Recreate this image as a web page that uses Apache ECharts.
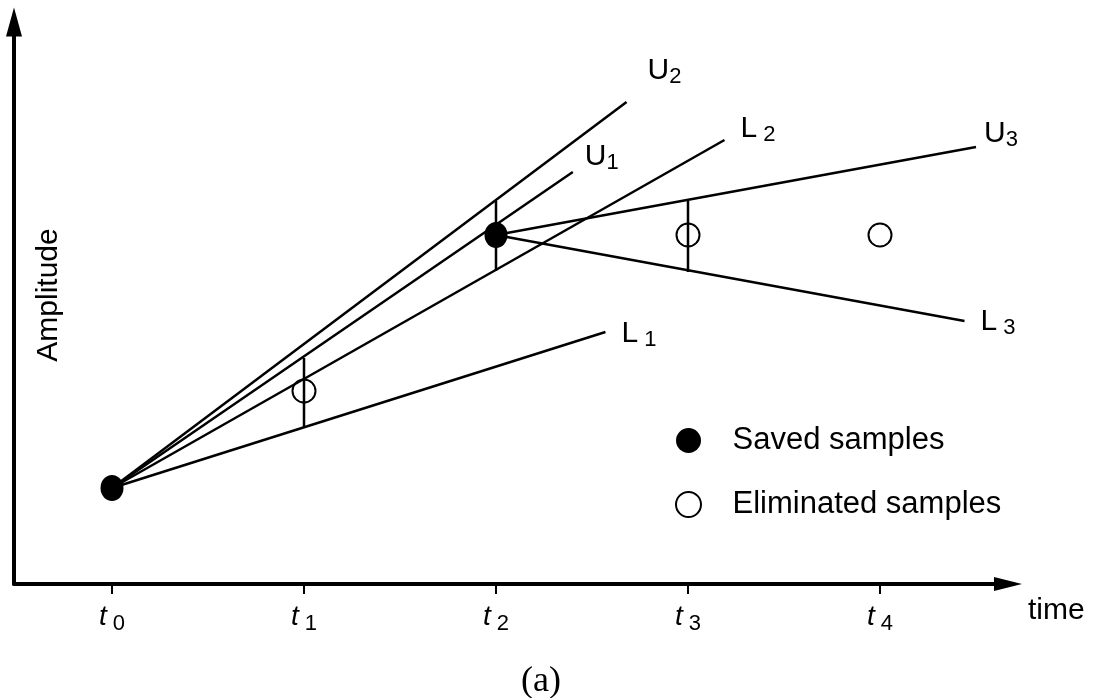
<!DOCTYPE html>
<html><head><meta charset="utf-8">
<script src="https://cdn.jsdelivr.net/npm/echarts@6/dist/echarts.min.js"></script>
<style>html,body{margin:0;padding:0;background:#fff}#c{width:1095px;height:698px}</style>
</head><body><div id="c"></div>
<script>
// ---- data (x in sample-time units t_k, y in amplitude units) ----
const tickValues = [0, 1, 2, 3, 4];
const tickSubs = ['0', '1', '2', '3', '4'];

const savedT = [0, 2];
const savedA = [0.96, 3.49];

const elimT = [1, 3, 4];
const elimA = [1.93, 3.49, 3.49];

const boundT = [1, 2, 3];
const boundUpper = [2.26, 3.83, 3.83];
const boundLower = [1.57, 3.13, 3.12];

const lineLetters = ['U', 'L', 'U', 'L', 'U', 'L'];
const lineSubs = ['1', '1', '2', '2', '3', '3'];
const lineStartT = [0, 0, 0, 0, 2, 2];
const lineStartA = [0.96, 0.96, 0.96, 0.96, 3.49, 3.49];
const lineEndT = [2.40, 2.57, 2.68, 3.19, 4.50, 4.44];
const lineEndA = [4.12, 2.52, 4.82, 4.44, 4.37, 2.63];

// ---- layout / style (not data) ----
const FONT = "'Liberation Sans', Arial, Helvetica, sans-serif";
const labelOffsets = [[12, -13], [16, 4], [21, -29], [16, -9], [8, -11], [16, 3]];
const X_MIN = -98 / 192, X_MAX = 896 / 192;

const chart = echarts.init(document.getElementById('c'), null, {renderer: 'canvas'});

const subRich = {
  m: {fontFamily: FONT, fontSize: 30, lineHeight: 30, color: '#000', padding: [0, 0, 4, 0]},
  s: {fontFamily: FONT, fontSize: 22, lineHeight: 22, color: '#000', verticalAlign: 'bottom'}
};

const series = [];
lineLetters.forEach((L, i) => {
  series.push({
    type: 'line',
    name: L + lineSubs[i],
    data: [[lineStartT[i], lineStartA[i]], [lineEndT[i], lineEndA[i]]],
    showSymbol: false,
    symbol: 'none',
    lineStyle: {color: '#000', width: 2.5},
    silent: true,
    z: 2,
    endLabel: {
      show: true,
      distance: 0,
      offset: labelOffsets[i],
      formatter: () => L === 'L' ? `{m|L}{s| ${lineSubs[i]}}` : `{m|U}{s|${lineSubs[i]}}`,
      rich: subRich
    }
  });
});
boundT.forEach((t, i) => {
  series.push({
    type: 'line',
    data: [[t, boundUpper[i]], [t, boundLower[i]]],
    showSymbol: false,
    symbol: 'none',
    lineStyle: {color: '#000', width: 2.5},
    silent: true,
    z: 2
  });
});
series.push({
  type: 'scatter',
  name: 'Saved samples',
  data: savedT.map((t, i) => [t, savedA[i]]),
  symbol: 'circle',
  symbolSize: [23, 26],
  itemStyle: {color: '#000', opacity: 1},
  z: 5
});
series.push({
  type: 'scatter',
  name: 'Eliminated samples',
  data: elimT.map((t, i) => [t, elimA[i]]),
  symbol: 'circle',
  symbolSize: 23,
  itemStyle: {color: 'rgba(255,255,255,0)', borderColor: '#000', borderWidth: 2, opacity: 1},
  z: 5
});

chart.setOption({
  animation: false,
  backgroundColor: '#fff',
  title: {
    text: '(a)', left: 516, top: 659,
    textStyle: {fontFamily: "'Liberation Serif', 'Times New Roman', serif", fontSize: 36, fontWeight: 'normal', color: '#000'}
  },
  legend: {
    orient: 'vertical', left: 675, top: 425, padding: 0,
    itemWidth: 78, itemHeight: 25, itemGap: 33,
    selectedMode: false,
    textStyle: {fontFamily: FONT, fontSize: 31, lineHeight: 30, color: '#000'},
    data: [
      {name: 'Saved samples', icon: 'circle', itemStyle: {color: '#000', opacity: 1}},
      {name: 'Eliminated samples', icon: 'circle', itemStyle: {color: '#fff', borderColor: '#000', borderWidth: 2, opacity: 1}}
    ]
  },
  grid: {left: 14, right: 87, top: 22, bottom: 114, containLabel: false},
  xAxis: {
    type: 'value', min: X_MIN, max: X_MAX,
    name: 'time', nameLocation: 'end', nameGap: 20,
    nameTextStyle: {fontFamily: FONT, fontSize: 30, color: '#000', align: 'left', verticalAlign: 'top', padding: [12, 0, 0, 0]},
    axisLine: {show: true, onZero: false, symbol: ['none', 'triangle'], symbolSize: [14, 28], lineStyle: {color: '#000', width: 4}},
    axisTick: {show: true, customValues: tickValues, length: 10, lineStyle: {color: '#000', width: 2}},
    axisLabel: {
      show: true, customValues: tickValues, margin: 23,
      formatter: v => `{t|t}{s| ${tickSubs[tickValues.indexOf(v)]}}`,
      rich: {
        t: {fontFamily: FONT, fontStyle: 'italic', fontSize: 28, lineHeight: 28, color: '#000', padding: [0, 0, 8, 0]},
        s: {fontFamily: FONT, fontSize: 22, lineHeight: 22, color: '#000', verticalAlign: 'bottom'}
      }
    },
    splitLine: {show: false}
  },
  yAxis: {
    type: 'value', min: 0, max: 5.62,
    name: 'Amplitude', nameLocation: 'middle', nameRotate: 90, nameGap: -50,
    nameTextStyle: {fontFamily: FONT, fontSize: 30, color: '#000', padding: [0, 0, 0, 16]},
    axisLine: {show: true, onZero: false, symbol: ['none', 'triangle'], symbolSize: [16, 29], lineStyle: {color: '#000', width: 4}},
    axisTick: {show: false},
    axisLabel: {show: false},
    splitLine: {show: false}
  },
  series: series
});
</script>
</body></html>
